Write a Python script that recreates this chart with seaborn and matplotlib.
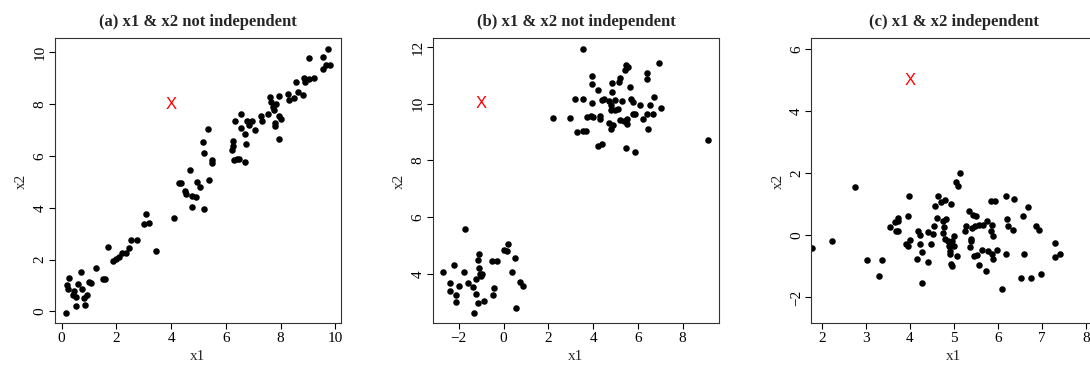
import matplotlib
matplotlib.use("Agg")
import matplotlib.pyplot as plt
import numpy as np
import seaborn as sns

# panel (a): strongly correlated
a_x1 = [0.15, 0.2, 0.27, 0.24, 0.4, 0.47, 0.53, 0.54, 0.59, 0.7, 0.75, 0.83, 0.84, 0.91,
        1.01, 1.06, 1.24, 1.53, 1.58, 1.7, 1.86, 2.0, 2.08, 2.19, 2.37, 2.45, 2.55, 2.77,
        3.0, 3.1, 3.18, 3.46, 4.12, 4.28, 4.37, 4.52, 4.54, 4.7, 4.75, 4.77, 4.9, 4.95,
        5.04, 5.16, 5.2, 5.19, 5.36, 5.39, 5.51, 5.51, 6.21, 6.26, 6.28, 6.31, 6.34, 6.4,
        6.5, 6.55, 6.57, 6.7, 6.71, 6.74, 6.77, 6.84, 6.96, 7.07, 7.29, 7.31, 7.54, 7.6,
        7.65, 7.71, 7.76, 7.79, 7.81, 7.85, 7.93, 7.93, 7.96, 8.02, 8.27, 8.3, 8.48, 8.57,
        8.63, 8.81, 8.85, 8.91, 9.03, 9.05, 9.21, 9.54, 9.56, 9.66, 9.75, 9.81]
a_x2 = [-0.06, 1.03, 1.3, 0.86, 0.64, 0.77, 0.54, 0.22, 1.05, 1.5, 0.86, 0.51, 0.26, 0.64,
        1.15, 1.09, 1.67, 1.24, 1.24, 2.5, 1.95, 2.03, 2.08, 2.24, 2.27, 2.44, 2.76, 2.76,
        3.37, 3.74, 3.42, 2.33, 3.62, 4.94, 4.97, 4.65, 4.55, 5.45, 4.46, 4.04, 4.4, 5.0,
        4.8, 6.54, 6.13, 3.94, 7.05, 5.06, 5.86, 5.71, 6.22, 6.37, 6.58, 5.86, 7.37, 5.9,
        5.88, 7.09, 7.63, 6.86, 5.77, 6.46, 7.37, 7.2, 7.37, 6.99, 7.53, 7.35, 7.63, 8.27,
        8.08, 7.91, 7.76, 7.28, 7.14, 7.99, 8.3, 6.64, 7.53, 7.44, 8.4, 8.18, 8.23, 8.87,
        8.46, 8.36, 9.01, 8.85, 9.78, 8.99, 9.0, 9.81, 9.36, 9.51, 10.13, 9.51]

# panel (b): two clusters
b_x1 = [-2.68, -2.37, -2.41, -2.2, -2.11, -2.11, -1.98, -1.74, -1.76, -1.58, -1.37, -1.32,
        -1.25, -1.21, -1.16, -1.12, -1.09, -1.09, -1.03, -1.01, -0.97, -0.85, -0.51, -0.49,
        -0.43, -0.3, 0.04, 0.15, 0.18, 0.37, 0.51, 0.58, 0.73, 0.86,
        2.19, 2.95, 3.18, 3.27, 3.56, 3.57, 3.56, 3.69, 3.75, 3.93, 3.97, 3.97, 3.91, 3.99,
        4.23, 4.29, 4.32, 4.24, 4.38, 4.4, 4.49, 4.73, 4.7, 4.78, 4.79, 4.84, 4.85, 4.81,
        4.91, 5.0, 5.0, 5.13, 5.15, 5.21, 5.21, 5.31, 5.37, 5.45, 5.42, 5.48, 5.57, 5.51,
        5.52, 5.63, 5.71, 5.76, 5.8, 5.86, 5.88, 6.09, 6.25, 6.4, 6.41, 6.4, 6.44, 6.55,
        6.67, 6.7, 6.95, 7.01, 9.15]
b_x2 = [4.06, 3.67, 3.4, 4.32, 3.26, 3.0, 3.58, 5.58, 4.05, 3.67, 3.53, 2.62,
        3.3, 3.81, 2.99, 4.49, 4.69, 4.19, 4.0, 3.91, 4.0, 3.03, 4.47, 3.26,
        3.5, 4.47, 4.84, 4.79, 5.06, 4.06, 4.55, 2.79, 3.73, 3.58,
        9.49, 9.49, 10.17, 9.01, 10.17, 11.93, 9.03, 9.05, 9.53, 10.02, 10.99, 10.68, 9.56, 9.53,
        10.47, 9.56, 9.47, 8.51, 8.57, 10.14, 10.16, 10.08, 9.32, 9.96, 9.12, 10.73, 10.41, 9.79,
        9.26, 10.14, 9.77, 9.8, 10.76, 10.92, 9.44, 10.08, 9.39, 8.44, 11.2, 11.35, 11.29, 9.47,
        9.3, 10.59, 10.18, 10.06, 9.65, 9.62, 8.3, 9.94, 9.47, 11.08, 10.87, 9.63, 9.12, 9.97,
        9.62, 10.24, 11.43, 9.85, 8.71]

# panel (c): independent
c_x1 = [1.77, 2.23, 2.75, 3.03, 3.29, 3.36, 3.55, 3.65, 3.68, 3.72, 3.74, 3.74, 3.96, 3.97,
        3.91, 3.95, 4.01, 4.15, 4.19, 4.22, 4.24, 4.28, 4.28, 4.42, 4.42, 4.48, 4.52, 4.55,
        4.58, 4.61, 4.64, 4.71, 4.74, 4.76, 4.8, 4.78, 4.79, 4.82, 4.86, 4.88, 4.9, 4.91,
        4.93, 4.94, 4.95, 4.95, 5.0, 5.0, 5.05, 5.08, 5.1, 5.14, 5.25, 5.28, 5.33, 5.36,
        5.39, 5.39, 5.42, 5.43, 5.45, 5.48, 5.51, 5.52, 5.56, 5.57, 5.64, 5.66, 5.73, 5.76,
        5.78, 5.83, 5.85, 5.86, 5.87, 5.89, 5.89, 5.94, 5.97, 6.1, 6.18, 6.19, 6.21, 6.23,
        6.33, 6.36, 6.53, 6.56, 6.59, 6.68, 6.74, 6.87, 6.93, 6.97, 7.29, 7.29, 7.41]
c_x2 = [-0.41, -0.19, 1.55, -0.78, -1.31, -0.81, 0.26, 0.42, 0.15, 0.55, 0.47, 0.15, 0.63, 1.27,
        -0.28, -0.33, -0.14, -0.75, 0.13, -0.27, 0.01, -0.54, -1.55, -0.86, 0.11, -0.27, 0.03, 0.29,
        0.93, 0.55, 1.25, 1.06, 0.07, 0.47, 1.14, 0.27, -0.12, 0.52, -0.19, -0.35, -0.51, -0.6,
        1.01, -0.92, -0.99, -0.19, -0.35, -0.01, 1.73, -0.67, 1.59, 2.0, 0.15, 0.29, 0.79, -0.37,
        -0.11, -0.17, 0.22, 0.66, -0.67, 0.29, 0.63, -0.62, -0.96, 0.33, -0.46, 0.33, -1.15, 0.45,
        -0.51, 1.11, 0.13, -0.6, 0.34, -0.01, -0.76, 1.11, -0.48, -1.74, 1.25, -0.59, 0.54, 0.29,
        0.16, 1.18, -1.37, 0.61, -0.6, 0.9, -1.38, 0.31, 0.18, -1.24, -0.25, -0.69, -0.59]

# query points (red X)
query = {"a": (4, 8), "b": (-1, 10), "c": (4, 5)}

titles = ["(a) x1 & x2 not independent", "(b) x1 & x2 not independent",
          "(c) x1 & x2 independent"]

sns.set_style("white")
plt.rcParams['font.family'] = ['Liberation Serif', 'DejaVu Serif']

fig = plt.figure(figsize=(10.9, 3.65), dpi=100)

# axes positions in figure fraction (panel c runs past the right edge, as in the reference)
bottom, height = 0.1137, 0.781
positions = [[0.0505, bottom, 0.2621, height],
             [0.3972, bottom, 0.2624, height],
             [0.7443, bottom, 0.2618, height]]

panels = [
    (a_x1, a_x2, query["a"], (-0.24, 10.2), (-0.47, 10.54), np.arange(0, 11, 2), np.arange(0, 11, 2)),
    (b_x1, b_x2, query["b"], (-3.15, 9.62), (2.25, 12.3), np.arange(-2, 9, 2), np.arange(4, 13, 2)),
    (c_x1, c_x2, query["c"], (1.76, 8.24), (-2.84, 6.34), np.arange(2, 9, 1), np.arange(-2, 7, 2)),
]

for pos, title, (x1, x2, q, xl, yl, xt, yt) in zip(positions, titles, panels):
    ax = fig.add_axes(pos)
    sns.scatterplot(x=x1, y=x2, ax=ax, color="black", s=22, linewidth=0)
    ax.text(q[0], q[1], "X", color="red", fontsize=12, family="Liberation Sans",
            ha="center", va="center")
    ax.set_xlim(*xl)
    ax.set_ylim(*yl)
    ax.set_xticks(xt)
    ax.set_yticks(yt)
    ax.set_xlabel("x1", fontsize=11, labelpad=4)
    ax.set_ylabel("x2", fontsize=11, labelpad=4)
    ax.set_title(title, fontsize=12, fontweight="bold", pad=9)
    ax.tick_params(axis="both", direction="out", length=4, width=0.8, labelsize=11,
                   colors="black", pad=2, bottom=True, left=True)
    for lab in ax.get_yticklabels():
        lab.set_rotation(90)
        lab.set_va("center")
    for sp in ax.spines.values():
        sp.set_color("#333333")
        sp.set_linewidth(0.8)

fig.savefig("out.png", dpi=100)
